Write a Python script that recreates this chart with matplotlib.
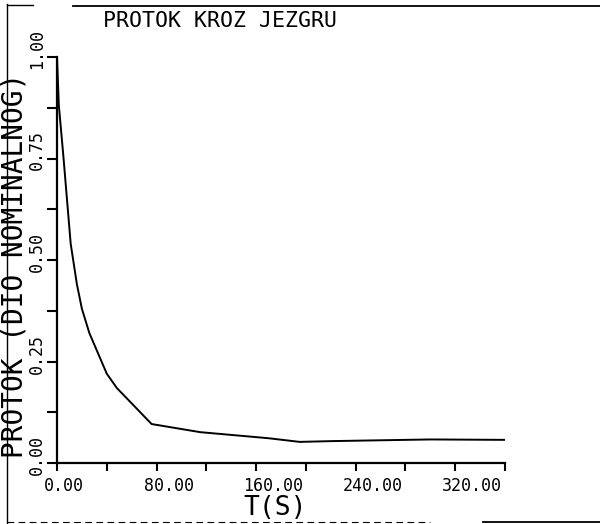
import matplotlib
matplotlib.use("Agg")
import matplotlib.pyplot as plt
import matplotlib.transforms as mtrans
from matplotlib.lines import Line2D
import numpy as np

# values
time_s = [0, 1.5, 5, 8, 11, 16, 20, 26, 40, 48, 76, 115, 170, 195, 222, 300, 360]
flow = [1.0, 0.88, 0.76, 0.65, 0.54, 0.44, 0.38, 0.32, 0.22, 0.185, 0.096,
        0.076, 0.061, 0.052, 0.054, 0.058, 0.057]
x_ticks = np.arange(0, 361, 40)
y_ticks = np.arange(0, 1.001, 0.125)

plt.rcParams['font.family'] = ['DejaVu Sans Mono', 'DejaVu Sans']

fig = plt.figure(figsize=(6, 5.24), dpi=100)
ax = fig.add_axes([57/600, 61/524, 448/600, 406/524])

ax.plot(time_s, flow, color='black', lw=1.4)
ax.set_xlim(0, 360)
ax.set_ylim(0, 1.0)

for side in ['top', 'right']:
    ax.spines[side].set_visible(False)
for side in ['left', 'bottom']:
    ax.spines[side].set_linewidth(1.6)

ax.set_xticks(x_ticks)
ax.set_xticklabels(['%.2f' % t if t % 80 == 0 else '' for t in x_ticks])
ax.set_yticks(y_ticks)
ax.set_yticklabels(['%.2f' % v if abs(v * 4 - round(v * 4)) < 1e-9 else '' for v in y_ticks])

# sizes in points (1 px = 0.72 pt at 100 dpi)
ax.tick_params(axis='x', direction='out', length=5.8, width=1.5, pad=4, labelsize=12)
ax.tick_params(axis='y', direction='out', length=7.2, width=1.5, pad=1, labelsize=12)

# plotter labels start a little before the tick
off_x = mtrans.ScaledTranslation(-13/100, 0, fig.dpi_scale_trans)
for lab in ax.get_xticklabels():
    lab.set_ha('left')
    lab.set_transform(lab.get_transform() + off_x)
off_y = mtrans.ScaledTranslation(0, -12/100, fig.dpi_scale_trans)
for lab in ax.get_yticklabels():
    lab.set_rotation(90)
    lab.set_va('bottom')
    lab.set_ha('right')
    lab.set_transform(lab.get_transform() + off_y)

fig.text(15/600, 1 - 265/524, 'PROTOK (DIO NOMINALNOG)', rotation=90,
         ha='center', va='center', fontsize=20)
fig.text(275/600, 1 - 508/524, 'T(S)', ha='center', va='center', fontsize=19)
fig.text(103/600, 1 - 21/524, 'PROTOK KROZ JEZGRU', ha='left', va='center', fontsize=15.5)

# page frame of the scan
def px_line(xs, ys, **kw):
    fig.add_artist(Line2D([x/600 for x in xs], [1 - y/524 for y in ys],
                          transform=fig.transFigure, color='black', **kw))

px_line([7, 7], [4, 524], lw=1.0)
px_line([7, 33], [5, 5], lw=1.0)
px_line([73, 600], [6, 6], lw=1.3)
px_line([7, 430], [522, 522], lw=0.8, ls=(0, (6, 4)))
px_line([483, 600], [522, 522], lw=1.3)

fig.savefig('out.png', dpi=100)
